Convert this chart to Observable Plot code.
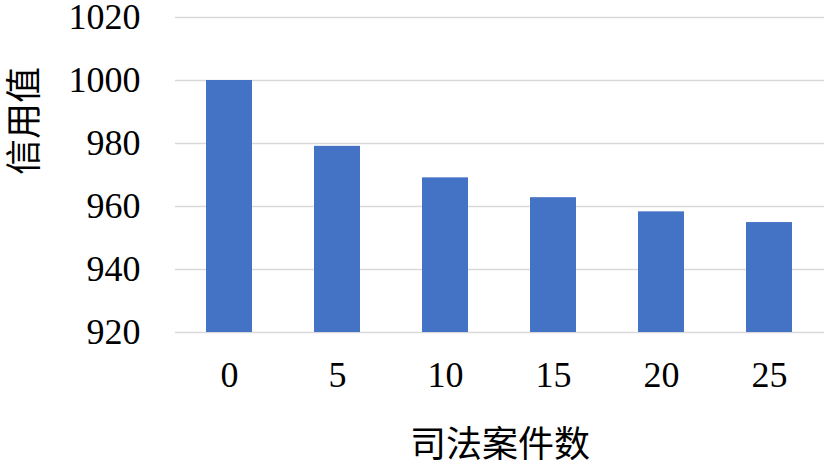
<!DOCTYPE html>
<html>
<head>
<meta charset="utf-8">
<script src="https://cdn.jsdelivr.net/npm/d3@7"></script>
<script src="https://cdn.jsdelivr.net/npm/@observablehq/plot@0.6"></script>
<style>
  html, body { margin: 0; padding: 0; background: #fff; }
</style>
</head>
<body>
<div id="chart"></div>
<script>
const cases = ["0", "5", "10", "15", "20", "25"];
const credit = [1000, 979.1, 969.1, 962.8, 958.3, 954.9];
const yTicks = [920, 940, 960, 980, 1000, 1020];
const xTitle = "司法案件数";
const yTitle = "信用值";

const data = cases.map((c, i) => ({case: c, value: credit[i]}));
const yMin = yTicks[0];

const chart = Plot.plot({
  width: 827,
  height: 467,
  marginLeft: 175,
  marginRight: 3,
  marginTop: 17,
  marginBottom: 135,
  style: {fontFamily: "'Liberation Serif', 'Times New Roman', serif", background: "#fff"},
  x: {domain: cases, paddingInner: 0.57, paddingOuter: 0.285, axis: null},
  y: {domain: [yTicks[0], yTicks[yTicks.length - 1]], axis: null},
  marks: [
    Plot.ruleY(yTicks, {stroke: "#d9d9d9", strokeWidth: 1.6}),
    Plot.barY(data, {x: "case", y1: yMin, y2: "value", fill: "#4472C4"}),
    Plot.axisY(yTicks, {tickSize: 0, tickPadding: 35, fontSize: 36, fill: "#000", label: null,
      tickFormat: d => String(d)}),
    Plot.axisX(cases, {tickSize: 0, tickPadding: 29, fontSize: 36, fill: "#000", label: null}),
    Plot.text([yTitle], {frameAnchor: "left", dx: -150, rotate: -90, fontSize: 36, fill: "#000",
      fontFamily: "'Noto Sans CJK SC', sans-serif"}),
    Plot.text([xTitle], {frameAnchor: "bottom", dy: 124, fontSize: 36, fill: "#000",
      fontFamily: "'Noto Sans CJK SC', sans-serif"})
  ]
});
document.getElementById("chart").appendChild(chart);
</script>
</body>
</html>
